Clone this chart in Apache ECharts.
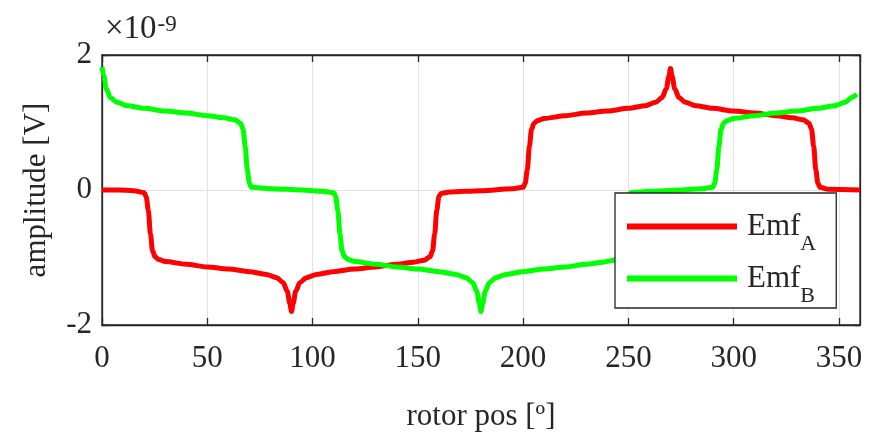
<!DOCTYPE html>
<html>
<head>
<meta charset="utf-8">
<script src="https://cdn.jsdelivr.net/npm/echarts@6/dist/echarts.min.js"></script>
<style>
  html, body { margin: 0; padding: 0; background: #fff; }
  #chart { width: 888px; height: 442px; }
</style>
</head>
<body>
<div id="chart"></div>
<script>
// values in units of 1e-9 V (axis shows x10^-9)
const posA = [0, 8, 15, 20, 21, 22, 23, 24, 25.2, 27, 30, 40, 50, 60, 70, 78, 83, 86, 88, 89.2, 90,
  90.8, 92, 94, 97, 102, 110, 120, 130, 140, 148, 153, 155.8, 157, 158, 159, 160, 161, 165, 180, 195,
  200, 201, 202, 203, 204, 205.2, 207, 210, 220, 230, 240, 250, 258, 263, 266, 268, 269.2, 270,
  270.8, 272, 274, 277, 282, 290, 300, 310, 320, 328, 333, 335.8, 337, 338, 339, 340, 341, 345, 360]
const emfA = [0, 0, -0.01, -0.04, -0.1, -0.3, -0.65, -0.9, -0.99, -1.03, -1.06, -1.1, -1.14, -1.17, -1.21, -1.25, -1.3, -1.37, -1.5, -1.68, -1.8,
  -1.68, -1.5, -1.37, -1.3, -1.25, -1.21, -1.17, -1.14, -1.1, -1.07, -1.04, -0.99, -0.9, -0.65, -0.3, -0.1, -0.05, -0.03, -0.01, 0.02,
  0.04, 0.1, 0.3, 0.65, 0.9, 0.99, 1.03, 1.06, 1.1, 1.14, 1.17, 1.21, 1.25, 1.3, 1.37, 1.5, 1.68, 1.8,
  1.68, 1.5, 1.37, 1.3, 1.25, 1.21, 1.17, 1.14, 1.1, 1.07, 1.04, 0.99, 0.9, 0.65, 0.3, 0.1, 0.04, 0.01, 0]

const posB = [0, 0.8, 2, 4, 7, 12, 20, 30, 40, 50, 58, 63, 65.8, 67, 68, 69, 70, 71, 80, 95, 105,
  110, 111, 112, 113, 114, 115.2, 117, 120, 130, 140, 150, 160, 168, 173, 176, 178, 179.2, 180,
  180.8, 182, 184, 187, 192, 200, 210, 220, 230, 238, 243, 245.8, 247, 248, 249, 250, 251, 260, 275,
  285, 290, 291, 292, 293, 294, 295.2, 297, 300, 310, 320, 330, 340, 348, 353, 356, 358.5]
const emfB = [1.82, 1.7, 1.5, 1.37, 1.3, 1.25, 1.21, 1.17, 1.14, 1.1, 1.07, 1.04, 0.99, 0.9, 0.65, 0.3, 0.1, 0.04, 0.02, 0, -0.02,
  -0.04, -0.1, -0.3, -0.65, -0.9, -0.99, -1.03, -1.06, -1.1, -1.14, -1.17, -1.21, -1.25, -1.3, -1.37, -1.5, -1.68, -1.8,
  -1.68, -1.5, -1.37, -1.3, -1.25, -1.21, -1.17, -1.14, -1.1, -1.07, -1.04, -0.99, -0.9, -0.65, -0.3, -0.1, -0.04, -0.02, 0,
  0.02, 0.04, 0.1, 0.3, 0.65, 0.9, 0.99, 1.03, 1.06, 1.1, 1.14, 1.17, 1.21, 1.25, 1.3, 1.37, 1.42]

const xTicks = { min: 0, max: 360, step: 50 }
const yTicks = { min: -2, max: 2, step: 2 }

const seriesNames = ['Emf_A', 'Emf_B']
const seriesColors = ['#ff0000', '#00ff00']

const FONT = 'Liberation Serif'
const INK = '#262626'

const chart = echarts.init(document.getElementById('chart'))

const pairs = (xs, ys) => xs.map((x, i) => [x, ys[i]])

const baseX = {
  type: 'value',
  min: xTicks.min,
  max: xTicks.max,
  interval: xTicks.step,
  axisLine: { show: true, onZero: false, lineStyle: { color: INK, width: 1.3 } },
  axisTick: { show: true, inside: true, length: 7, lineStyle: { color: INK, width: 1.3 } }
}
const baseY = {
  type: 'value',
  min: yTicks.min,
  max: yTicks.max,
  interval: yTicks.step,
  axisLine: { show: true, onZero: false, lineStyle: { color: INK, width: 1.3 } },
  axisTick: { show: true, inside: true, length: 7, lineStyle: { color: INK, width: 1.3 } }
}

const option = {
  animation: false,
  backgroundColor: '#fff',
  textStyle: { fontFamily: FONT, color: INK },
  title: {
    left: 105,
    top: 13,
    padding: 0,
    text: '{m|×10}{s|-9}',
    textStyle: {
      fontWeight: 'normal',
      rich: {
        m: { fontFamily: FONT, fontSize: 33, fontWeight: 'normal', lineHeight: 33, color: INK, verticalAlign: 'bottom' },
        s: { fontFamily: FONT, fontSize: 23, fontWeight: 'normal', lineHeight: 23, color: INK, verticalAlign: 'top', padding: [0, 0, 16, 1] }
      }
    }
  },
  grid: {
    left: 102, right: 28, top: 55, bottom: 117,
    show: true, borderColor: INK, borderWidth: 1.3, backgroundColor: '#fff'
  },
  legend: {
    orient: 'vertical',
    left: 615,
    top: 193,
    padding: [18, 20, 1, 12],
    itemGap: 8,
    itemWidth: 110,
    itemHeight: 6,
    icon: 'rect',
    backgroundColor: '#fff',
    borderColor: INK,
    borderWidth: 1.3,
    borderRadius: 0,
    data: seriesNames,
    formatter: name => '{m|Emf}{s|' + name.split('_')[1] + '}',
    textStyle: {
      rich: {
        m: { fontFamily: FONT, fontSize: 31, lineHeight: 31, color: INK, verticalAlign: 'top', padding: [0, 0, 0, 5] },
        s: { fontFamily: FONT, fontSize: 22, lineHeight: 22, color: INK, verticalAlign: 'top', padding: [22, 0, 0, 0] }
      }
    }
  },
  xAxis: [
    {
      ...baseX,
      position: 'bottom',
      axisLabel: { fontFamily: FONT, fontSize: 31, color: INK, margin: 18, showMaxLabel: false },
      splitLine: { show: true, lineStyle: { color: '#e3e3e3', width: 1 } },
      name: 'rotor pos [º]',
      nameLocation: 'middle',
      nameGap: 76,
      nameTextStyle: { fontFamily: FONT, fontSize: 31, color: INK }
    },
    {
      ...baseX,
      position: 'top',
      axisLabel: { show: false },
      splitLine: { show: false }
    }
  ],
  yAxis: [
    {
      ...baseY,
      position: 'left',
      axisLabel: { fontFamily: FONT, fontSize: 31, color: INK, margin: 10 },
      splitLine: { show: true, lineStyle: { color: '#e3e3e3', width: 1 } },
      name: 'amplitude [V]',
      nameLocation: 'middle',
      nameGap: 50,
      nameRotate: 90,
      nameTextStyle: { fontFamily: FONT, fontSize: 31, color: INK }
    },
    {
      ...baseY,
      position: 'right',
      axisLabel: { show: false },
      splitLine: { show: false }
    }
  ],
  series: [
    {
      name: seriesNames[0],
      type: 'line',
      data: pairs(posA, emfA),
      showSymbol: false,
      smooth: 0.3,
      smoothMonotone: 'x',
      color: seriesColors[0],
      lineStyle: { color: seriesColors[0], width: 5 }
    },
    {
      name: seriesNames[1],
      type: 'line',
      data: pairs(posB, emfB),
      showSymbol: false,
      smooth: 0.3,
      smoothMonotone: 'x',
      color: seriesColors[1],
      lineStyle: { color: seriesColors[1], width: 5 }
    }
  ]
}

chart.setOption(option)
</script>
</body>
</html>
